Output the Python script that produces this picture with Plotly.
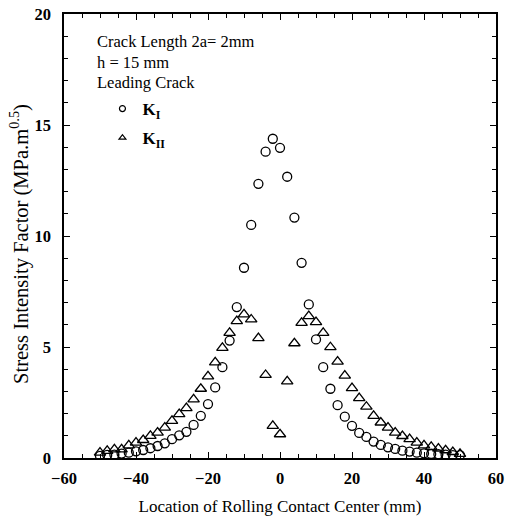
import plotly.graph_objects as go

x_mm = [-50, -48, -46, -44, -42, -40, -38, -36, -34, -32, -30, -28, -26, -24, -22, -20,
        -18, -16, -14, -12, -10, -8, -6, -4, -2, 0, 2, 4, 6, 8, 10, 12, 14, 16, 18, 20,
        22, 24, 26, 28, 30, 32, 34, 36, 38, 40, 42, 44, 46, 48, 50]

k1 = [0.10, 0.14, 0.15, 0.20, 0.24, 0.30, 0.36, 0.44, 0.54, 0.66, 0.85, 1.02, 1.18, 1.49,
      1.90, 2.43, 3.18, 4.09, 5.29, 6.80, 8.57, 10.50, 12.35, 13.80, 14.38, 13.97, 12.67,
      10.83, 8.79, 6.92, 5.34, 4.09, 3.12, 2.38, 1.86, 1.45, 1.13, 0.95, 0.74, 0.59, 0.48,
      0.41, 0.33, 0.29, 0.24, 0.21, 0.18, 0.17, 0.15, 0.13, 0.13]

k2 = [0.24, 0.32, 0.39, 0.39, 0.57, 0.69, 0.81, 1.00, 1.14, 1.37, 1.67, 1.98, 2.25, 2.64,
      3.12, 3.68, 4.31, 4.96, 5.64, 6.17, 6.47, 6.24, 5.40, 3.74, 1.45, 1.07, 3.45, 5.17,
      6.09, 6.39, 6.12, 5.64, 4.99, 4.34, 3.71, 3.15, 2.70, 2.31, 1.90, 1.60, 1.37, 1.14,
      0.99, 0.85, 0.69, 0.57, 0.50, 0.42, 0.35, 0.27, 0.19]

series_names = ["K<sub>I</sub>", "K<sub>II</sub>"]
note_lines = ["Crack Length 2a= 2mm", "h = 15 mm", "Leading Crack"]
x_title = "Location of Rolling Contact Center (mm)"
y_title = "Stress Intensity Factor (MPa.m<sup>0.5</sup>)"

FONT = "Liberation Serif"
symbols = ["circle-open", "triangle-up-open"]
sizes = [9, 10]

fig = go.Figure()
for yv, nm, sym, sz in zip([k1, k2], series_names, symbols, sizes):
    fig.add_trace(go.Scatter(
        x=x_mm, y=yv, mode="markers", name=nm, showlegend=False,
        marker=dict(symbol=sym, size=sz, color="black", line=dict(width=1.3, color="black")),
    ))
# legend entries (small symbols as in the original key)
for i, (nm, sym) in enumerate(zip(series_names, symbols)):
    fig.add_trace(go.Scatter(
        x=[None], y=[None], mode="markers", name=nm, legendgroup=f"g{i}",
        marker=dict(symbol=sym, size=6, color="black", line=dict(width=1.2, color="black")),
    ))

axis_common = dict(
    showline=True, linecolor="black", linewidth=1.5, mirror="ticks",
    ticks="inside", ticklen=6, tickwidth=1.2, tickcolor="black",
    showgrid=False, zeroline=False, automargin=False,
    ticklabeloverflow="allow",
    tickfont=dict(family=FONT, size=16.5, color="black", weight="bold"),
)

fig.update_xaxes(
    range=[-60, 60], dtick=20, tick0=-60,
    minor=dict(dtick=5, ticks="inside", ticklen=4, tickcolor="black", tickwidth=1),
    title=dict(text=x_title, font=dict(family=FONT, size=17, color="black"), standoff=22),
    ticklabelstandoff=4,
    **axis_common,
)
fig.update_yaxes(
    range=[0, 20], dtick=5, tick0=0,
    minor=dict(dtick=1, ticks="inside", ticklen=4, tickcolor="black", tickwidth=1),
    ticklabelstandoff=8,
    **axis_common,
)

# y-axis title (placed as rotated text, slightly below the plot centre as in the original)
fig.add_annotation(
    xref="paper", yref="paper", x=-0.102, y=0.482,
    xanchor="center", yanchor="middle", showarrow=False, textangle=-90,
    text=y_title, font=dict(family=FONT, size=20.5, color="black"),
)

y0 = 0.937
for i, t in enumerate(note_lines):
    fig.add_annotation(
        xref="paper", yref="paper", x=0.072, y=y0 - i * 0.046,
        xanchor="left", yanchor="middle", showarrow=False, text=t,
        font=dict(family=FONT, size=16.5, color="black"),
    )

fig.update_layout(
    width=497, height=508,
    margin=dict(l=56, r=9, t=6, b=58),
    paper_bgcolor="white", plot_bgcolor="white",
    showlegend=True,
    legend=dict(
        x=0.089, y=0.8265, xanchor="left", yanchor="top",
        bgcolor="rgba(0,0,0,0)", borderwidth=0,
        font=dict(family=FONT, size=17, color="black", weight="bold"),
        tracegroupgap=4,
    ),
)

fig.write_html("out.html")
